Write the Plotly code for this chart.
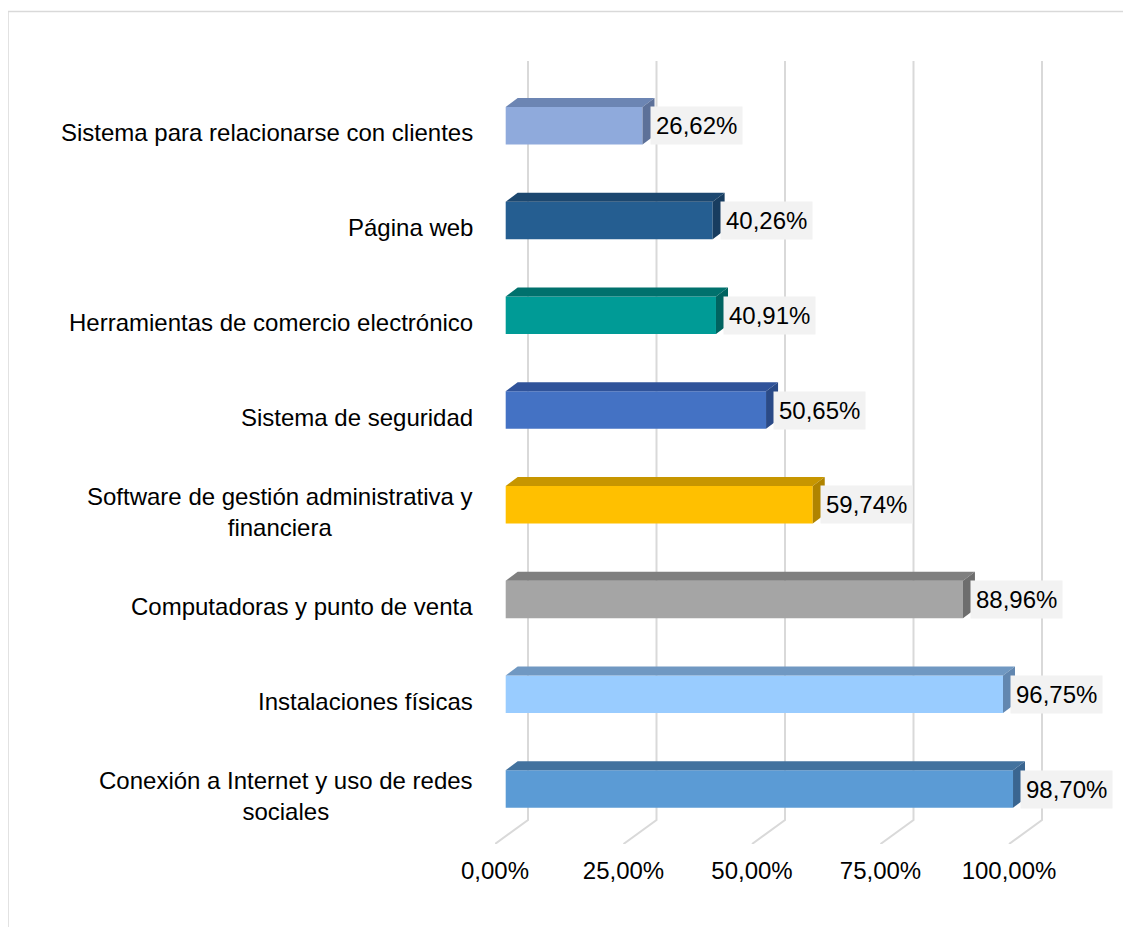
import plotly.graph_objects as go

# ── Datos ───────────────────────────────────────────────────────────
categorias = [
    "Conexión a Internet y uso de redes<br>sociales",
    "Instalaciones físicas",
    "Computadoras y punto de venta",
    "Software de gestión administrativa y<br>financiera",
    "Sistema de seguridad",
    "Herramientas de comercio electrónico",
    "Página web",
    "Sistema para relacionarse con clientes",
]
valores = [98.70, 96.75, 88.96, 59.74, 50.65, 40.91, 40.26, 26.62]
ticks = [0, 25, 50, 75, 100]

# frente, cara superior, cara lateral
col_frente = ["#5b9bd5", "#99ccff", "#a5a5a5", "#ffc000", "#4472c4", "#009b96", "#255e91", "#8faadc"]
col_arriba = ["#43729e", "#7098c2", "#7f7f7f", "#c79600", "#30539a", "#00716d", "#1c476f", "#6c85b3"]
col_lado   = ["#3a6590", "#6287b0", "#6e6e6e", "#b08400", "#2a4a87", "#006360", "#183d60", "#5d7199"]

# ── Geometría (px de la página; el body tiene 8px de margen) ────────
OFF = 8
W, H = 1131 - OFF, 927 - OFF
L, R, T, B = 495 - OFF, 1075 - OFF, 61 - OFF, 844 - OFF
PX_X = 5.14          # px por punto porcentual
X0 = 505.7 - OFF     # px del 0 en el plano frontal
Y0, PASO = 789 - OFF, 94.74
ANCHO = 0.396
DX, DY = 12 / PX_X, 9 / PASO          # profundidad de las barras
GX = 22.3 / PX_X                      # desplazamiento de la pared del fondo
FX = (L - X0) / PX_X                  # borde frontal del suelo
Y_SUELO = (Y0 - (820 - OFF)) / PASO

xr = [(L - X0) / PX_X, (R - X0) / PX_X]
yr = [(Y0 - B) / PASO, (Y0 - T) / PASO]

FUENTE = "Liberation Sans, Arial, sans-serif"
TAM = 24

fig = go.Figure()

pos = list(range(len(valores)))
fig.add_trace(go.Bar(
    x=valores, y=pos, orientation="h", width=ANCHO,
    marker=dict(color=col_frente, line=dict(width=0)),
    hoverinfo="skip",
))

for i, v in enumerate(valores):
    top, bot = i + ANCHO / 2, i - ANCHO / 2
    fig.add_trace(go.Scatter(
        x=[0, v, v + DX, DX, 0], y=[top, top, top + DY, top + DY, top],
        fill="toself", fillcolor=col_arriba[i], mode="lines", line=dict(width=0),
        hoverinfo="skip", showlegend=False,
    ))
    fig.add_trace(go.Scatter(
        x=[v, v + DX, v + DX, v, v], y=[bot, bot + DY, top + DY, top, bot],
        fill="toself", fillcolor=col_lado[i], mode="lines", line=dict(width=0),
        hoverinfo="skip", showlegend=False,
    ))

shapes = []
for t in ticks:
    shapes.append(dict(
        type="path", layer="below", xref="x", yref="y",
        path=f"M {t + GX},{yr[1]} L {t + GX},{Y_SUELO} L {t + FX},{yr[0]}",
        line=dict(color="#d9d9d9", width=2),
    ))
# marco del área del gráfico
shapes.append(dict(
    type="rect", xref="paper", yref="paper", layer="below",
    x0=(8 - OFF - L) / (R - L), x1=(1145 - L) / (R - L),
    y0=(B - 950) / (B - T), y1=(B - (11.5 - OFF)) / (B - T),
    line=dict(color="#d9d9d9", width=1.5),
))

anots = []
for i, v in enumerate(valores):
    anots.append(dict(
        x=v + 7 / PX_X, y=i, xref="x", yref="y", xanchor="left", yanchor="middle",
        text=f"{v:.2f}%".replace(".", ","), showarrow=False,
        bgcolor="#f2f2f2", borderpad=5,
        font=dict(family=FUENTE, size=TAM, color="#000000"),
    ))
    anots.append(dict(
        x=(475 - OFF - L) / (R - L), y=i, xref="paper", yref="y",
        xanchor="right", yanchor="middle", align="center", yshift=-7,
        text=categorias[i], showarrow=False,
        font=dict(family=FUENTE, size=TAM, color="#000000"),
    ))

fig.update_layout(
    width=W, height=H,
    margin=dict(l=L, r=W - R, t=T, b=H - B, pad=0),
    paper_bgcolor="#ffffff", plot_bgcolor="rgba(0,0,0,0)",
    showlegend=False,
    font=dict(family=FUENTE, size=TAM, color="#000000"),
    xaxis=dict(
        range=xr, showgrid=False, zeroline=False, showline=False,
        tickvals=[t + FX for t in ticks],
        ticktext=[f"{t:.2f}%".replace(".", ",") for t in ticks],
        ticks="", ticklabelstandoff=10,
        fixedrange=True,
    ),
    yaxis=dict(
        range=yr, showgrid=False, zeroline=False, showline=False,
        showticklabels=False, fixedrange=True,
    ),
    shapes=shapes,
    annotations=anots,
)

fig.write_html("out.html")
